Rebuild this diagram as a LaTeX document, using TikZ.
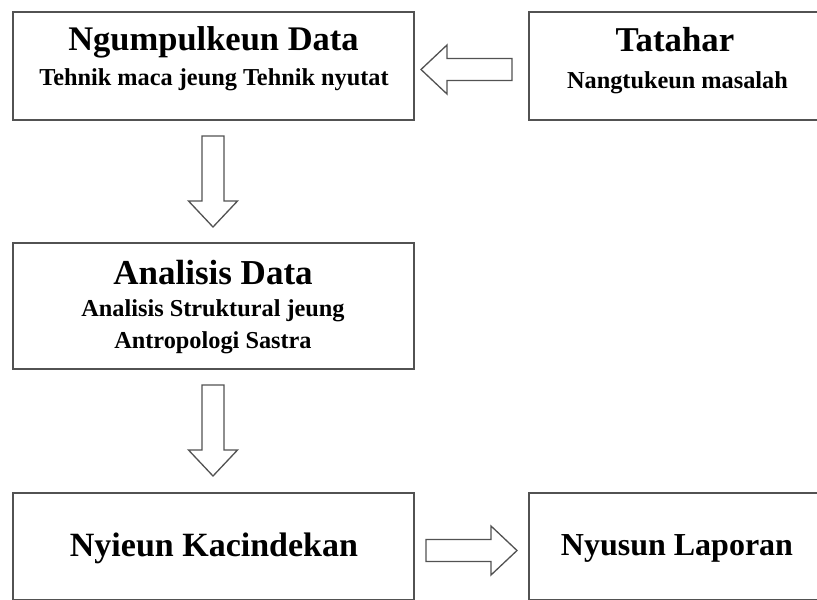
\documentclass[tikz,border=0pt]{standalone}
\usepackage{fontspec}
\setmainfont{Liberation Serif}
\tikzset{
  box/.style={draw=black!68, line width=1.6pt, fill=white, inner sep=0pt},
  barrow/.style={draw=black!68, line width=1.3pt, fill=white, line join=miter},
  ttl/.style={anchor=base, inner sep=0pt, font=\bfseries\fontsize{#1}{#1}\selectfont},
  sub/.style={anchor=base, inner sep=0pt, font=\bfseries\fontsize{24.3}{24.3}\selectfont}
}
\newcommand\blkarrowpath{(0,0) -- (-26,24.5) -- (-26,11) -- (-91,11) -- (-91,-11) -- (-26,-11) -- (-26,-24.5) -- cycle}
\begin{document}
\begin{tikzpicture}[x=1pt,y=-1pt]
\useasboundingbox (0,0) rectangle (817,600);
\clip (0,0) rectangle (817,600);
\fill[white] (0,0) rectangle (817,600);
% boxes
\draw[box] (13,12) rectangle (414,120);
\draw[box] (529,12) rectangle (826,120);
\draw[box] (13,243) rectangle (414,369);
\draw[box] (13,493) rectangle (414,599.3);
\draw[box] (529,493) rectangle (826,599.3);
% texts
\node[ttl=34.5] (t1) at (213.5,50) {Ngumpulkeun Data};
\node[sub] (s1) at (214,85) {Tehnik maca jeung Tehnik nyutat};
\node[ttl=34.8] (t2) at (675,51) {Tatahar};
\node[sub] (s2) at (677.5,88) {Nangtukeun masalah};
\node[ttl=35] (t3) at (213,284) {Analisis Data};
\node[sub] (s3) at (213,316) {Analisis Struktural jeung};
\node[sub] (s4) at (213,348) {Antropologi Sastra};
\node[ttl=34] (t4) at (214,556) {Nyieun Kacindekan};
\node[ttl=32] (t5) at (677,555) {Nyusun Laporan};
% block arrows
\coordinate (a1) at (421,69.5);
\coordinate (a2) at (213,227);
\coordinate (a3) at (213,476);
\coordinate (a4) at (517,550.5);
\draw[barrow, shift={(a1)}, rotate=180] \blkarrowpath;
\draw[barrow, shift={(a2)}, rotate=-90] \blkarrowpath;
\draw[barrow, shift={(a3)}, rotate=-90] \blkarrowpath;
\draw[barrow, shift={(a4)}] \blkarrowpath;
\end{tikzpicture}
\end{document}
